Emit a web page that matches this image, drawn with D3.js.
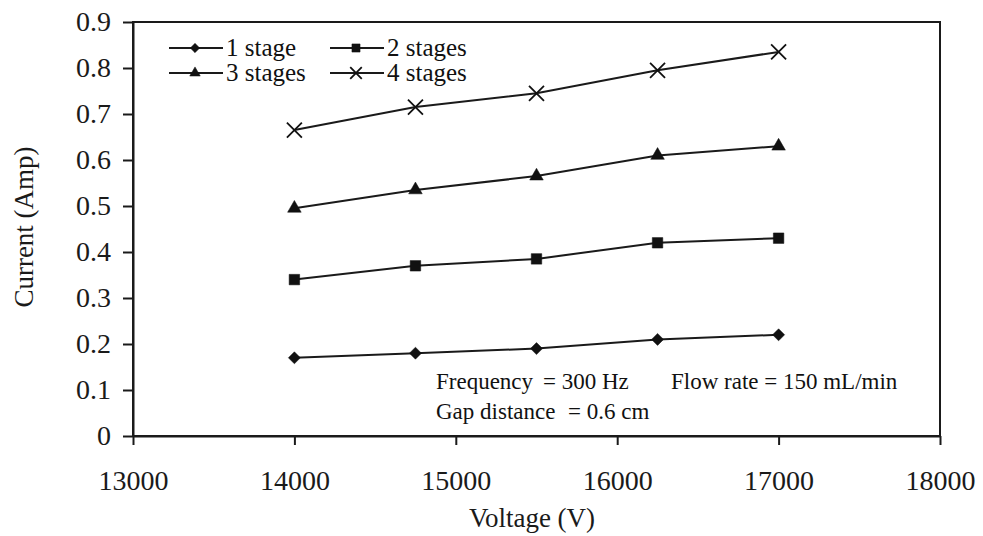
<!DOCTYPE html>
<html>
<head>
<meta charset="utf-8">
<script src="https://cdn.jsdelivr.net/npm/d3@7"></script>
<style>
  body { margin: 0; background: #fff; }
  svg { font-family: "Liberation Serif", "DejaVu Serif", serif; }
  .axis path, .axis line { stroke: #1a1a1a; stroke-width: 2; }
  .axis text { font-family: "Liberation Serif", serif; font-size: 28px; fill: #1a1a1a; }
</style>
</head>
<body>
<div id="chart"></div>
<script>
const WIDTH = 983;
const HEIGHT = 536;
const MARGIN = { top: 22, right: 43, bottom: 100, left: 133 };

const voltages = [14000, 14750, 15500, 16250, 17000];
const seriesNames = ["1 stage", "2 stages", "3 stages", "4 stages"];
const stage1 = [0.17, 0.18, 0.19, 0.21, 0.22];
const stage2 = [0.34, 0.37, 0.385, 0.42, 0.43];
const stage3 = [0.495, 0.535, 0.565, 0.61, 0.63];
const stage4 = [0.665, 0.715, 0.745, 0.795, 0.835];
const xTicks = [13000, 14000, 15000, 16000, 17000, 18000];
const yTicks = [0, 0.1, 0.2, 0.3, 0.4, 0.5, 0.6, 0.7, 0.8, 0.9];
const symbols = [d3.symbolDiamond2, d3.symbolSquare, d3.symbolTriangle, d3.symbolTimes];
const symbolSizes = [92, 110, 80, 148];

const series = [stage1, stage2, stage3, stage4].map((vals, i) => ({
    name: seriesNames[i],
    symbol: symbols[i],
    size: symbolSizes[i],
    points: vals.map((v, j) => ({ x: voltages[j], y: v }))
}));

const plotW = WIDTH - MARGIN.left - MARGIN.right;
const plotH = 414;

const svg = d3.select("#chart").append("svg")
    .attr("width", WIDTH)
    .attr("height", HEIGHT);

const g = svg.append("g")
    .attr("transform", "translate(" + MARGIN.left + "," + MARGIN.top + ")");

const x = d3.scaleLinear().domain([13000, 18000]).range([0, plotW]);
const y = d3.scaleLinear().domain([0, 0.9]).range([plotH, 0]);

// frame
g.append("rect")
    .attr("width", plotW)
    .attr("height", plotH)
    .attr("fill", "none")
    .attr("stroke", "#1a1a1a")
    .attr("stroke-width", 2);

g.append("g")
    .attr("class", "axis")
    .attr("transform", "translate(0," + plotH + ")")
    .call(d3.axisBottom(x).tickValues(xTicks).tickFormat(d3.format("d"))
        .tickSize(9).tickSizeOuter(0).tickPadding(25));

g.append("g")
    .attr("class", "axis")
    .call(d3.axisLeft(y).tickValues(yTicks).tickFormat(d => d === 0 ? "0" : d3.format(".1f")(d))
        .tickSize(10).tickSizeOuter(0).tickPadding(12));

const line = d3.line().x(d => x(d.x)).y(d => y(d.y));

function drawMarker(sel, s, scale) {
    sel.attr("d", d3.symbol().type(s.symbol).size(s.size * scale))
        .attr("fill", s.symbol === d3.symbolTimes ? "none" : "#111")
        .attr("stroke", "#111")
        .attr("stroke-width", s.symbol === d3.symbolTimes ? 1.8 : 0.5);
}

series.forEach(s => {
    g.append("path")
        .datum(s.points)
        .attr("fill", "none")
        .attr("stroke", "#1a1a1a")
        .attr("stroke-width", 2)
        .attr("d", line);

    g.selectAll(null)
        .data(s.points)
        .enter().append("path")
        .attr("transform", d => "translate(" + x(d.x) + "," + y(d.y) + ")")
        .call(drawMarker, s, 1);
});

// legend
const legend = svg.append("g").attr("font-size", 25).attr("fill", "#111");
series.forEach((s, i) => {
    const lx = i % 2 === 0 ? 169 : 330;
    const ly = i < 2 ? 48 : 73;
    legend.append("line")
        .attr("x1", lx).attr("x2", lx + 54)
        .attr("y1", ly).attr("y2", ly)
        .attr("stroke", "#1a1a1a").attr("stroke-width", 2);
    legend.append("path")
        .attr("transform", "translate(" + (lx + 26) + "," + ly + ")")
        .call(drawMarker, s, 0.6);
    legend.append("text")
        .attr("x", lx + 57).attr("y", ly + 8)
        .text(s.name);
});

// annotation
const note = svg.append("g").attr("font-size", 23).attr("fill", "#111");
note.append("text").attr("x", 436).attr("y", 389).text("Frequency");
note.append("text").attr("x", 543).attr("y", 389).text("= 300 Hz");
note.append("text").attr("x", 671).attr("y", 389).text("Flow rate = 150 mL/min");
note.append("text").attr("x", 436).attr("y", 419).text("Gap distance");
note.append("text").attr("x", 568).attr("y", 419).text("= 0.6 cm");

// axis titles
svg.append("text")
    .attr("x", 532)
    .attr("y", 527)
    .attr("text-anchor", "middle")
    .attr("font-size", 27)
    .attr("fill", "#1a1a1a")
    .text("Voltage (V)");

svg.append("text")
    .attr("transform", "translate(33,227) rotate(-90)")
    .attr("text-anchor", "middle")
    .attr("font-size", 27)
    .attr("fill", "#1a1a1a")
    .text("Current (Amp)");
</script>
</body>
</html>
